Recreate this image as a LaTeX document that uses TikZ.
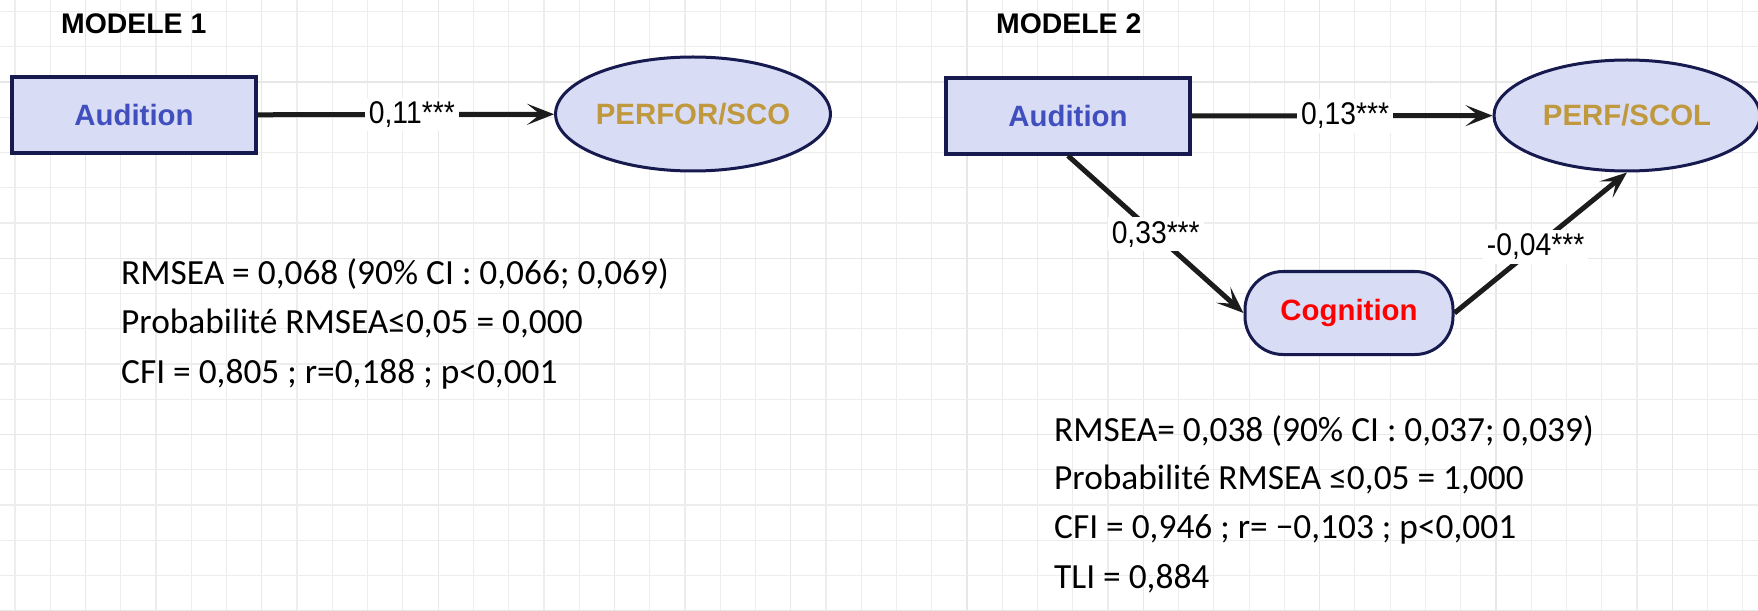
\documentclass[tikz,border=0pt]{standalone}
\usepackage{fontspec}
\setmainfont{Liberation Sans}
\newfontfamily\calib{Carlito}
\newfontfamily\narrowf[FakeStretch=0.9]{Liberation Sans}
\usetikzlibrary{shapes.geometric,arrows.meta}
\definecolor{gridc}{RGB}{237,237,237}
\definecolor{gridd}{RGB}{231,231,231}
\definecolor{navy}{RGB}{22,26,78}
\definecolor{fillc}{RGB}{216,221,245}
\definecolor{audc}{RGB}{64,78,190}
\definecolor{goldc}{RGB}{192,152,62}
\definecolor{arrc}{RGB}{28,28,28}
\begin{document}
\begin{tikzpicture}[x=1bp,y=-1bp,
  box/.style={draw=navy,line width=3.5bp,fill=fillc,minimum width=244bp,minimum height=76bp,inner sep=0pt,font=\fontsize{29.5}{34}\selectfont\bfseries,text=audc},
  lat/.style={ellipse,draw=navy,line width=3bp,fill=fillc,inner sep=0pt,font=\fontsize{29.5}{34}\selectfont\bfseries,text=goldc},
  cogn/.style={rectangle,rounded corners=38bp,draw=navy,line width=3bp,fill=fillc,minimum width=208bp,minimum height=83bp,inner sep=0pt,font=\fontsize{29.5}{34}\selectfont\bfseries,text=red},
  arr/.style={draw=arrc,line width=5bp,-{Stealth[length=27bp,width=21bp,inset=13bp]}},
  coef/.style={fill=white,inner sep=4bp,font=\narrowf\fontsize{31.5}{34}\selectfont,text=black},
  stat/.style={anchor=base west,inner sep=0pt,font=\calib\fontsize{35.5}{40}\selectfont},
  ttl/.style={anchor=west,inner sep=0pt,font=\fontsize{28.5}{32}\selectfont\bfseries}
]
\useasboundingbox (0,0) rectangle (1758,611);
\fill[white] (0,0) rectangle (1758,611);
% grid
\foreach \k in {0,...,49}{
  \pgfmathtruncatemacro\m{mod(\k,5)}
  \ifnum\m=2 \def\gc{gridd}\else\def\gc{gridc}\fi
  \draw[\gc,line width=1.2bp] ({15+35.26*\k},0) -- ({15+35.26*\k},611);
}
\foreach \k in {0,...,17}{
  \pgfmathtruncatemacro\m{mod(\k,5)}
  \ifnum\m=2 \def\gc{gridd}\else\def\gc{gridc}\fi
  \draw[\gc,line width=1.2bp] (0,{11.5+35.25*\k}) -- (1758,{11.5+35.25*\k});
}
% titles
\node[ttl] (t1) at (61,24) {MODELE 1};
\node[ttl] (t2) at (996,24) {MODELE 2};
% model 1
\node[box] (a1) at (134,115) {Audition};
\node[lat,minimum width=272bp,minimum height=114bp] (p1) at (693,114) {PERFOR/SCO};
\draw[arr] (a1) -- node[coef,pos=0.52] {0,11***} (p1);
\node[stat] (s11) at (121,284) {RMSEA = 0,068 (90\% CI : 0,066; 0,069)};
\node[stat] (s12) at (121,333) {Probabilité RMSEA≤0,05 = 0,000};
\node[stat] (s13) at (121,383) {CFI = 0,805 ; r=0,188 ; p<0,001};
% model 2
\node[box] (a2) at (1068,116) {Audition};
\node[lat,minimum width=266bp,minimum height=111bp] (p2) at (1627,115.5) {PERF/SCOL};
\node[cogn] (cog) at (1349,313) {Cognition};
\draw[arr] (a2) -- node[coef,pos=0.51] {0,13***} (p2);
\draw[arr] (a2.south) -- node[coef,pos=0.5] {0,33***} (cog.west);
\draw[arr] (cog.east) -- node[coef,pos=0.47] {-0,04***} (p2.south);
\node[stat] (s21) at (1054,441) {RMSEA= 0,038 (90\% CI : 0,037; 0,039)};
\node[stat] (s22) at (1054,489) {Probabilité RMSEA ≤0,05 = 1,000};
\node[stat] (s23) at (1054,538) {CFI = 0,946 ; r= −0,103 ; p<0,001};
\node[stat] (s24) at (1054,588) {TLI = 0,884};
\end{tikzpicture}
\end{document}
